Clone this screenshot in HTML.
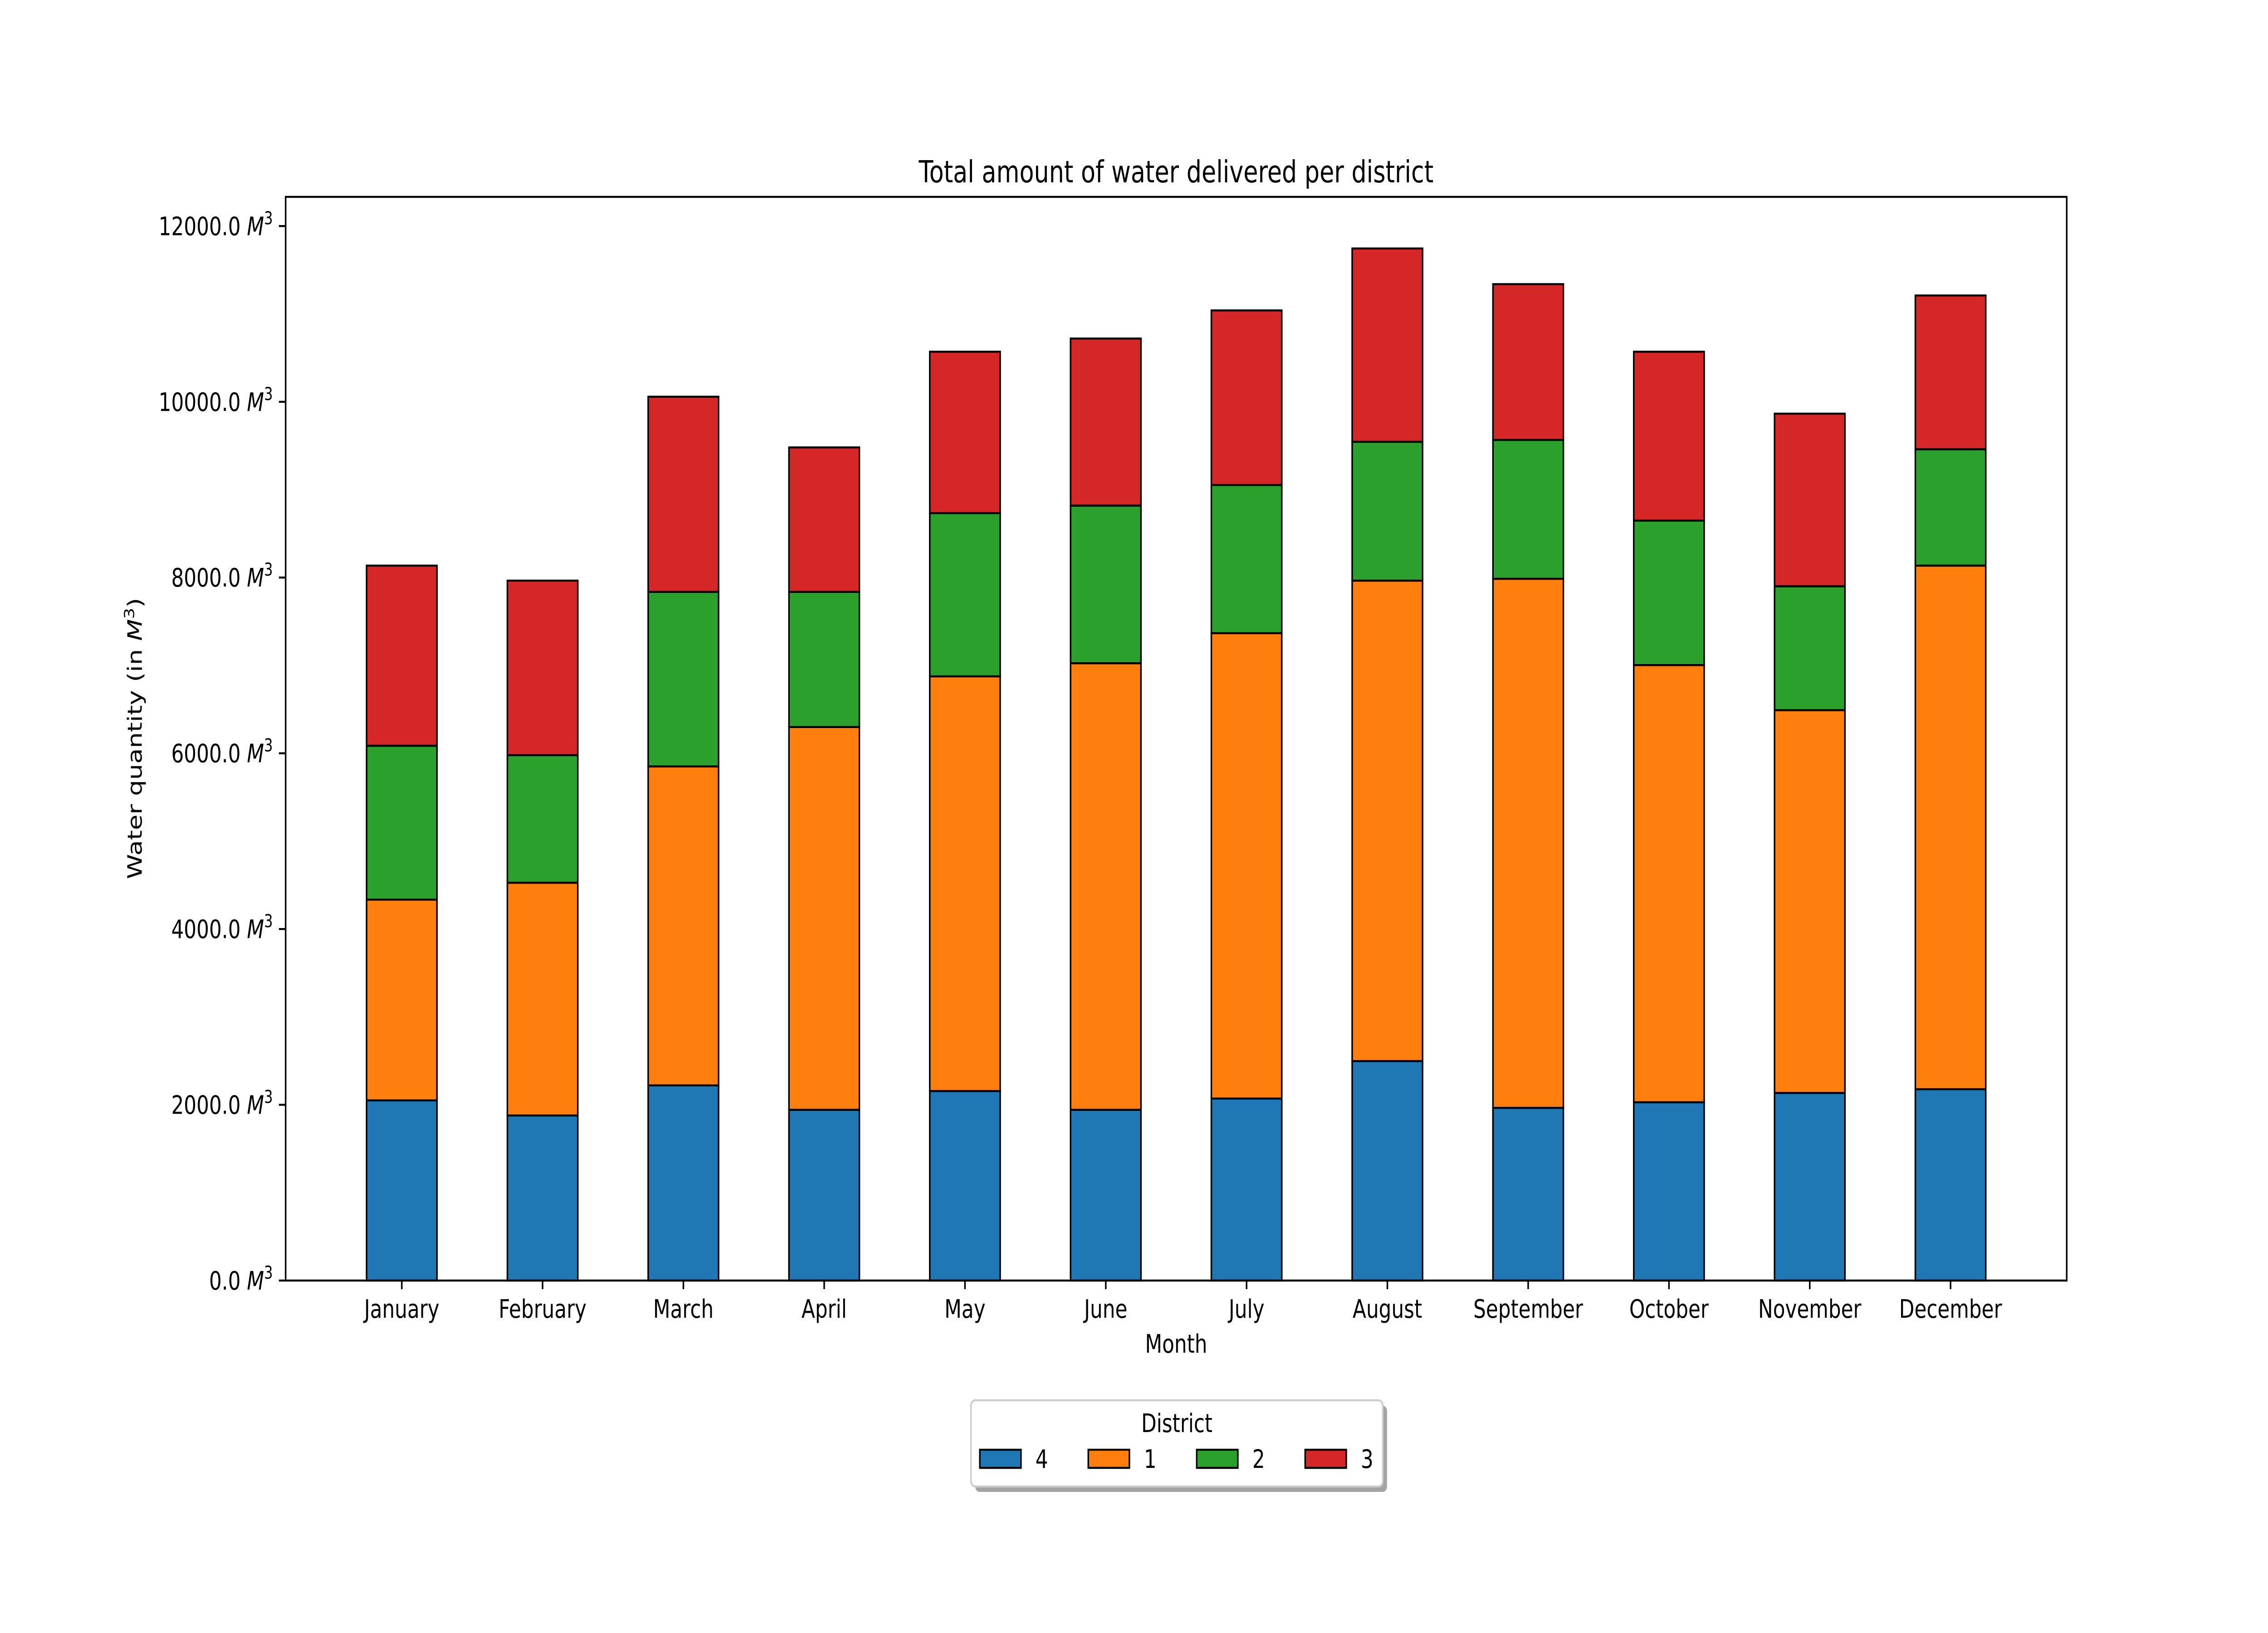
<!DOCTYPE html>
<html><head><meta charset="utf-8"><style>
html,body{margin:0;padding:0;background:#fff;width:100%;height:100%;overflow:hidden;}
svg{display:block;width:100vw;height:100vh;font-family:"DejaVu Sans","Liberation Sans",sans-serif;}
</style></head><body>
<svg id="chart" viewBox="0 0 6400 3600" preserveAspectRatio="none" xmlns="http://www.w3.org/2000/svg">
<rect width="6400" height="3600" fill="#fff"/>
<text x="3319" y="402" font-size="67" text-anchor="middle">Total amount of water delivered per district</text>
<g id="bars"></g>
<rect x="806" y="434" width="5026" height="2389" fill="none" stroke="#000" stroke-width="4.4"/>
<g id="yticks"></g>
<g id="xticks"></g>
<text x="3319" y="2982" font-size="56" text-anchor="middle">Month</text>
<text transform="translate(400,1628) rotate(-90)" font-size="56" text-anchor="middle">Water quantity (in <tspan font-style="italic">M</tspan><tspan font-size="39" dy="-22">3</tspan><tspan dy="22">)</tspan></text>
<g id="legend">
<rect x="2752" y="3099" width="1162" height="190" rx="12" fill="#999" opacity="0.9"/>
<rect x="2740" y="3087" width="1162" height="190" rx="12" fill="#fff" stroke="#ccc" stroke-width="4.4"/>
<text x="3321" y="3157" font-size="56" text-anchor="middle">District</text>
</g>
</svg>
<script>
const months = ["January","February","March","April","May","June","July","August","September","October","November","December"];
const seriesNames = ["4","1","2","3"];
const colors = ["#1f77b4","#ff7f0e","#2ca02c","#d62728"];
const district4 = [2050,1879,2221,1943,2157,1943,2071,2498,1965,2029,2135,2178];
const district1 = [2285,2648,3630,4356,4719,5082,5296,5467,6021,4975,4356,5958];
const district2 = [1751,1452,1986,1538,1858,1794,1687,1580,1580,1644,1410,1324];
const district3 = [2050,1986,2221,1644,1836,1901,1986,2200,1773,1922,1964,1750];
const yTicks = [0,2000,4000,6000,8000,10000,12000];

const series = [district4, district1, district2, district3];
const NS = "http://www.w3.org/2000/svg";
const L = 806, R = 5832, T = 434, B = 2823;
const totals = months.map((m,i)=>series.reduce((s,a)=>s+a[i],0));
const yMax = Math.max(...totals)*1.05;
const xMin = -0.825, xMax = months.length - 1 + 0.825;
const xs = v => L + (v - xMin)/(xMax - xMin)*(R - L);
const ys = v => B - v/yMax*(B - T);
const bw = (xs(0.5) - xs(0));
function mk(tag, attrs, parent){const e=document.createElementNS(NS,tag);for(const k in attrs)e.setAttribute(k,attrs[k]);parent.appendChild(e);return e;}

const gb = document.getElementById('bars');
months.forEach((m,i)=>{
  let base = 0;
  series.forEach((s,j)=>{
    const r = mk('rect',{x:xs(i)-bw/2,y:ys(base+s[i]),width:bw,height:ys(base)-ys(base+s[i]),fill:colors[j],stroke:'#000','stroke-width':4.4},gb);
    
    
    base += s[i];
  });
});

const gy = document.getElementById('yticks');
yTicks.forEach(v=>{
  const y = ys(v);
  const ln = mk('line',{x1:L-19,x2:L,y1:y,y2:y,stroke:'#000','stroke-width':4.4},gy);
  
  
  const t = mk('text',{x:L-36,y:y+20,'font-size':56,'text-anchor':'end'},gy);
  
  
  t.innerHTML = v.toFixed(1)+' <tspan font-style="italic">M</tspan><tspan font-size="39" dy="-24">3</tspan>';
});

const gx = document.getElementById('xticks');
months.forEach((m,i)=>{
  const x = xs(i);
  const ln = mk('line',{x1:x,x2:x,y1:B,y2:B+19,stroke:'#000','stroke-width':4.4},gx);
  
  
  const t = mk('text',{x:x,y:B+82,'font-size':56,'text-anchor':'middle'},gx);
  
  
  t.textContent = m;
});

const lg = document.getElementById('legend');
seriesNames.forEach((n,j)=>{
  const x = 2765 + j*306;
  const r = mk('rect',{x:x,y:3196,width:116,height:40,fill:colors[j],stroke:'#000','stroke-width':4.4},lg);
  
  
  const t = mk('text',{x:x+157,y:3236,'font-size':56},lg);
  
  
  t.textContent = n;
});
</script>
</body></html>
